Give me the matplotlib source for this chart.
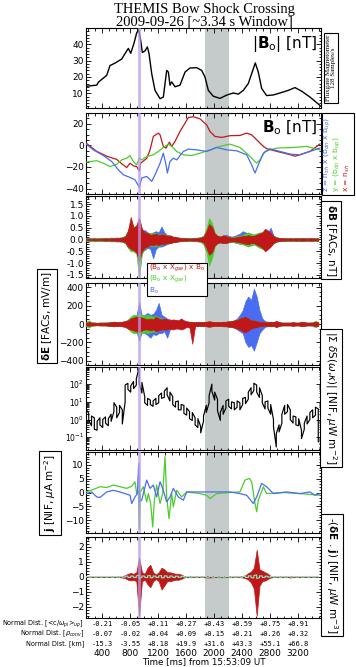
import numpy as np
import matplotlib
matplotlib.use('Agg')
import matplotlib.pyplot as plt
from matplotlib.ticker import MultipleLocator, LogLocator, NullFormatter, FixedLocator
from matplotlib.patches import Rectangle

plt.rcParams['font.family'] = ['DejaVu Sans']
plt.rcParams['mathtext.fontset'] = 'dejavusans'

# ---------------- data ----------------
# |Bo|
bmag_t = [171, 324, 350, 467, 514, 586, 681, 753, 776, 810, 857, 895, 924, 952, 976, 1014, 1048, 1071,
          1110, 1157, 1229, 1276, 1324, 1348, 1371, 1395, 1443, 1514, 1586, 1657, 1752, 1824, 1871, 1919,
          1990, 2086, 2181, 2276, 2348, 2419, 2490, 2538, 2590, 2633, 2681, 2752, 2848, 2943, 3062, 3157,
          3252, 3371, 3514]
bmag_v = [14.3, 15.0, 16.9, 21, 27, 28.5, 31, 36, 37.5, 34.5, 40.7, 47, 49, 42.5, 35, 36, 38.4, 34.5,
          22, 11.8, 6.7, 7.7, 24, 23, 15, 17, 14, 15, 23, 25.5, 25.7, 24, 20, 11.8,
          8.2, 6.9, 8.9, 10.2, 9.5, 11.8, 16, 22, 28.6, 23, 13, 8.6, 9, 10.2, 11.8, 13.5,
          11.3, 7.7, 2.6]

# Bo components
bx_t = [171, 324, 467, 610, 681, 753, 800, 848, 895, 933, 952, 1038, 1086, 1133, 1205, 1229, 1276, 1314,
        1362, 1395, 1443, 1514, 1586, 1633, 1705, 1800, 1895, 1943, 2014, 2110, 2229, 2371, 2467, 2538,
        2610, 2705, 2752, 2895, 2990, 3086, 3157, 3229, 3371, 3514]
bx_v = [2.2, -5.5, -10, -13, -17, -20.5, -16.5, -19, -19.6, -23.6, -16.5, -12, -4.3, 8.3, 11.4, 9.8, -0.9, -2.5,
        3, -0.9, 3.7, 12.9, 20.6, 25.8, 26.5, 24.6, 19, 12.9, 8.3, 7.4, 9, 9.2, 11.4, 9.8,
        5.2, -0.9, -3, -5.5, -7, -8.6, -10, -8.6, -5.5, 1.3]
by_t = [171, 324, 419, 514, 610, 681, 753, 800, 848, 895, 933, 967, 1038, 1133, 1205, 1276, 1348, 1395,
        1467, 1562, 1681, 1800, 1943, 2086, 2229, 2371, 2490, 2562, 2610, 2657, 2729, 2895, 3133, 3324,
        3419, 3514]
by_v = [-15.4, -14.2, -16.5, -19.6, -17.5, -13.4, -11.8, -9.4, -14.9, -18, -11.8, -13.4, -10.3, -8.7, -5.6,
        -1.9, 1.2, -0.9, -5.6, -8.7, -9.4, -7.2, -4.1, -0.9, 1.2, -1.9, -8.7, -13.4, -16.5, -13.4, -5.6,
        -2.5, -1.9, -0.9, -2.5, -4.1]
bz_t = [171, 276, 419, 538, 633, 705, 800, 871, 933, 967, 1038, 1110, 1157, 1229, 1276, 1310, 1334, 1371,
        1419, 1467, 1562, 1633, 1752, 1895, 2038, 2181, 2324, 2467, 2538, 2586, 2633, 2705, 2800, 2943,
        3086, 3229, 3371, 3514]
bz_v = [1.2, -4.1, -9.4, -14.9, -22.6, -27.2, -29.7, -31.8, -38.9, -30.3, -28.7, -33.3, -27.2, -16.5, -7.2,
        -16.5, -25.6, -14.9, -11.8, -13.4, -5.6, -3.5, -4.1, -5.6, -1.9, -4.1, -5, -8.7, -18, -25.6, -18,
        -7.2, -3.1, -5.6, -8, -8.7, -5.6, -2.5]

# common time bins (ms) for the dense wave panels
wave_t = [170, 210, 250, 290, 330, 370, 410, 450, 490, 530, 570, 610,
          650, 690, 730, 770, 810, 850, 890, 930, 970, 1010, 1050, 1090,
          1130, 1170, 1210, 1250, 1290, 1330, 1370, 1410, 1450, 1490, 1530, 1570,
          1610, 1650, 1690, 1730, 1770, 1810, 1850, 1890, 1930, 1970, 2010, 2050,
          2090, 2130, 2170, 2210, 2250, 2290, 2330, 2370, 2410, 2450, 2490, 2530,
          2570, 2610, 2650, 2690, 2730, 2770, 2810, 2850, 2890, 2930, 2970, 3010,
          3050, 3090, 3130, 3170, 3210, 3250, 3290, 3330, 3370, 3410, 3450, 3490]

# dB max/min per bin (nT)
dBr_hi = [.03, .04, .03, .04, .03, .04, .04, .05, .04, .05, .05, .06,
          .06, .08, .12, .35, .95, .50, .60, .92, .45, .30, .28, .20,
          .22, .25, .18, .22, .20, .15, .18, .12, .10, .08, .06, .05,
          .05, .04, .05, .05, .06, .08, .12, .35, .65, .55, .25, .15,
          .12, .18, .15, .10, .08, .08, .10, .12, .15, .15, .18, .15,
          .15, .20, .25, .30, .45, .38, .28, .15, .08, .06, .05, .05,
          .04, .05, .04, .05, .04, .05, .05, .04, .05, .05, .04, .05]
dBr_lo = [-.03, -.04, -.03, -.04, -.04, -.03, -.04, -.05, -.04, -.05, -.05, -.06,
          -.06, -.08, -.12, -.30, -.40, -.45, -.55, -.92, -.50, -.35, -.30, -.22,
          -.25, -.20, -.25, -.18, -.20, -.15, -.15, -.12, -.10, -.08, -.06, -.05,
          -.05, -.04, -.05, -.05, -.06, -.08, -.12, -.35, -.65, -.55, -.25, -.15,
          -.12, -.15, -.15, -.10, -.08, -.08, -.10, -.12, -.15, -.18, -.20, -.15,
          -.15, -.22, -.28, -.35, -.50, -.40, -.30, -.15, -.08, -.06, -.05, -.05,
          -.04, -.05, -.04, -.05, -.04, -.05, -.05, -.04, -.05, -.05, -.04, -.05]
dBg_hi = [.04, .05, .04, .05, .04, .05, .05, .06, .05, .06, .06, .07,
          .07, .10, .15, .40, .80, .55, .50, .70, .40, .30, .25, .25,
          .30, .25, .20, .25, .22, .18, .15, .12, .10, .08, .07, .06,
          .06, .05, .06, .06, .08, .10, .15, .45, .90, .70, .30, .15,
          .12, .15, .15, .12, .10, .12, .15, .15, .20, .25, .30, .25,
          .20, .25, .30, .30, .40, .30, .25, .15, .10, .07, .06, .06,
          .05, .05, .05, .06, .05, .06, .05, .05, .06, .05, .05, .06]
dBg_lo = [-.05, -.06, -.05, -.06, -.05, -.06, -.06, -.07, -.06, -.07, -.07, -.08,
          -.08, -.10, -.15, -.35, -.50, -.50, -.60, -1.60, -.60, -.40, -.30, -.25,
          -.30, -.25, -.30, -.20, -.20, -.15, -.15, -.12, -.10, -.08, -.07, -.06,
          -.06, -.05, -.06, -.06, -.08, -.10, -.20, -.50, -1.10, -.80, -.30, -.15,
          -.12, -.15, -.15, -.12, -.10, -.12, -.15, -.18, -.20, -.25, -.30, -.25,
          -.20, -.28, -.35, -.40, -.45, -.35, -.25, -.15, -.10, -.07, -.06, -.06,
          -.05, -.05, -.05, -.06, -.05, -.06, -.05, -.05, -.06, -.05, -.05, -.06]
dBb_hi = [.05, .06, .05, .06, .05, .06, .06, .07, .06, .08, .07, .08,
          .08, .10, .15, .30, .50, .40, .40, .60, .35, .40, .30, .25,
          .30, .35, .30, .55, .30, .20, .15, .12, .10, .08, .07, .06,
          .06, .05, .06, .06, .08, .10, .15, .30, .40, .35, .20, .15,
          .12, .15, .20, .15, .12, .15, .20, .25, .35, .30, .25, .25,
          .20, .25, .25, .30, .35, .30, .50, .15, .10, .07, .06, .06,
          .05, .05, .05, .06, .05, .06, .05, .05, .06, .05, .05, .06]
dBb_lo = [-.05, -.06, -.05, -.06, -.05, -.06, -.06, -.07, -.06, -.08, -.07, -.08,
          -.08, -.10, -.15, -.30, -.40, -.40, -.45, -.70, -.40, -.45, -.35, -.40,
          -.80, -.40, -.30, -.30, -.25, -.20, -.15, -.12, -.10, -.08, -.07, -.06,
          -.06, -.05, -.06, -.06, -.08, -.10, -.20, -.50, -.45, -.35, -.20, -.15,
          -.12, -.15, -.15, -.12, -.10, -.12, -.15, -.18, -.20, -.25, -.25, -.25,
          -.20, -.25, -.30, -.35, -.35, -.30, -.25, -.15, -.10, -.07, -.06, -.06,
          -.05, -.05, -.05, -.06, -.05, -.06, -.05, -.05, -.06, -.05, -.05, -.06]

# dE max/min per bin (mV/m)
dEr_hi = [15, 20, 15, 15, 12, 15, 15, 15, 15, 20, 25, 20,
          20, 25, 30, 40, 60, 70, 80, 80, 70, 60, 50, 60,
          50, 80, 60, 50, 60, 50, 40, 50, 45, 40, 60, 40,
          30, 25, 20, 20, 20, 20, 20, 25, 30, 25, 20, 20,
          20, 25, 25, 30, 30, 40, 45, 60, 70, 80, 60, 40,
          40, 30, 25, 20, 20, 20, 25, 20, 35, 20, 15, 15,
          15, 15, 20, 15, 15, 25, 20, 15, 15, 15, 25, 20]
dEr_lo = [-15, -20, -15, -15, -12, -15, -15, -15, -20, -20, -25, -20,
          -20, -25, -30, -50, -60, -70, -80, -90, -70, -60, -60, -70,
          -60, -80, -70, -60, -60, -60, -50, -60, -50, -50, -60, -50,
          -30, -40, -215, -20, -20, -20, -20, -25, -30, -25, -20, -20,
          -20, -25, -25, -30, -30, -40, -50, -60, -80, -90, -70, -50,
          -40, -35, -25, -20, -20, -20, -25, -20, -35, -20, -15, -15,
          -15, -15, -20, -15, -15, -25, -20, -15, -15, -15, -25, -20]
dEg_hi = [20, 40, 20, 15, 15, 15, 15, 15, 20, 20, 25, 20,
          20, 25, 30, 50, 80, 100, 100, 110, 100, 90, 100, 90,
          80, 90, 70, 60, 60, 50, 40, 40, 40, 35, 40, 30,
          25, 20, 20, 20, 20, 20, 20, 25, 30, 25, 20, 20,
          20, 20, 25, 30, 30, 40, 50, 60, 70, 70, 60, 40,
          40, 30, 25, 20, 20, 20, 25, 20, 30, 20, 15, 15,
          15, 15, 20, 15, 15, 25, 20, 15, 15, 20, 35, 20]
dEg_lo = [-20, -40, -20, -15, -15, -15, -15, -15, -20, -20, -25, -20,
          -20, -25, -30, -50, -80, -100, -100, -120, -100, -90, -100, -90,
          -80, -90, -70, -60, -60, -50, -40, -40, -40, -35, -40, -30,
          -25, -20, -20, -20, -20, -20, -20, -25, -30, -25, -20, -20,
          -20, -20, -25, -30, -30, -40, -50, -60, -70, -70, -60, -40,
          -40, -30, -25, -20, -20, -20, -25, -20, -30, -20, -15, -15,
          -15, -15, -20, -15, -15, -25, -20, -15, -15, -20, -35, -20]
dEb_hi = [15, 20, 15, 15, 12, 15, 15, 15, 15, 20, 25, 20,
          20, 25, 30, 40, 60, 70, 80, 240, 80, 100, 120, 100,
          110, 150, 230, 100, 80, 60, 50, 40, 40, 30, 30, 25,
          20, 20, 20, 20, 20, 20, 20, 20, 25, 20, 20, 20,
          20, 20, 20, 25, 30, 40, 60, 100, 150, 250, 300, 260,
          385, 300, 150, 60, 30, 25, 20, 20, 20, 20, 15, 15,
          15, 15, 15, 15, 15, 15, 15, 15, 15, 15, 15, 15]
dEb_lo = [-15, -20, -15, -15, -12, -15, -15, -15, -15, -20, -25, -20,
          -20, -25, -30, -40, -60, -70, -80, -180, -80, -100, -120, -150,
          -110, -120, -100, -100, -80, -150, -60, -40, -40, -30, -30, -25,
          -20, -20, -20, -20, -20, -20, -20, -20, -25, -20, -20, -20,
          -20, -20, -20, -25, -30, -40, -60, -80, -100, -200, -250, -230,
          -290, -200, -100, -60, -30, -25, -20, -20, -20, -20, -15, -15,
          -15, -15, -15, -15, -15, -15, -15, -15, -15, -15, -15, -15]

# |Sum dS| max/min per bin, log10(uW m^-2)
S_hi = [0.60, 0.35, 0.20, 0.10, -0.10, 0.10, 0.00, 0.15, 0.05, 0.30, 0.95, 0.70,
        0.80, 0.55, 1.95, 2.05, 1.90, 2.15, 2.30, 2.95, 2.10, 1.30, 1.20, 1.10,
        1.05, 1.20, 1.35, 1.50, 1.60, 1.80, 1.55, 1.30, 1.00, 1.05, 0.85, 0.80,
        0.65, 0.45, 0.40, 0.10, 0.05, -0.40, 0.20, 0.80, 1.35, 2.00, 1.55, 1.15,
        0.40, 0.80, 1.05, 1.15, 1.00, 0.95, 1.05, 0.95, 1.20, 1.25, 1.55, 1.80,
        2.05, 1.95, 1.80, 1.35, 1.00, 1.05, 0.85, 0.00, -0.80, -0.30, 0.30, 0.80,
        0.85, 0.55, 0.20, 0.15, 0.05, -0.60, -0.20, 0.20, 0.40, 0.55, 0.70, 0.60]
S_lo = [0.25, -0.05, -0.35, -0.55, -0.60, -0.30, -0.45, -0.20, -0.35, -0.10, 0.45, 0.10,
        0.40, -0.25, 1.00, 1.70, 1.55, 1.75, 1.95, 2.05, 1.50, 0.95, 0.80, 0.85,
        0.75, 0.85, 0.95, 1.20, 1.25, 1.40, 1.05, 0.85, 0.70, 0.55, 0.55, 0.35,
        0.25, 0.05, -0.05, -0.30, -0.45, -0.75, -0.10, 0.40, 0.95, 1.60, 1.10, 0.50,
        -0.05, 0.30, 0.65, 0.75, 0.60, 0.55, 0.70, 0.55, 0.85, 0.90, 1.15, 1.40,
        1.65, 1.55, 1.25, 0.95, 0.60, 0.65, 0.30, -0.40, -1.55, -0.70, -0.20, 0.30,
        0.45, 0.00, -0.20, -0.30, -0.35, -1.08, -0.55, -0.25, 0.00, 0.10, 0.25, -1.26]

# j (uA m^-2)
jg_t = [171, 276, 371, 467, 562, 657, 752, 824, 871, 895, 919, 933, 948, 990, 1038, 1062, 1095, 1124,
        1148, 1181, 1229, 1267, 1300, 1324, 1357, 1395, 1419, 1467, 1538, 1610, 1800, 1895, 1943, 2038,
        2229, 2371, 2443, 2505, 2538, 2586, 2610, 2633, 2705, 2752, 2990, 3229, 3514]
jg_v = [0.24, 1.1, 2.1, 1.8, 2.7, 2.1, 1.5, 2.3, 3.9, -0.4, 0.8, -13.1, 0.2, 2.1, -3.4, -0.4, -4, -12.5,
        -2.8, 2.7, -4, -0.4, 13, -1.6, -9.5, -0.4, -5.2, 0.8, -1.6, 0.2, -0.4, -1, -2.2, -0.4,
        0, 0.2, 4.5, 5.1, 3.9, -4, -7, -2.8, 2.1, -0.4, 0, -0.4, -1]
jb_t = [171, 252, 324, 371, 467, 562, 657, 800, 824, 871, 905, 924, 938, 967, 1038, 1086, 1133, 1181,
        1229, 1276, 1324, 1371, 1419, 1490, 1562, 1610, 1800, 2038, 2229, 2371, 2467, 2562, 2610, 2681,
        2752, 2848, 3038, 3229, 3371, 3443, 3514]
jb_v = [-0.4, 0.2, -1.6, -1.8, 0.2, 0.8, 0.2, -1, -4, -1.6, -0.4, 10.5, -3.4, -2.8, 4.5, 1.5, 2.7, -1.6,
        3.9, 0.8, -3.4, -1.6, 1.5, -1.6, -2.8, 0.2, 0.2, 0.2, 0.2, -0.4, -1, -4, -1.6, 3.3,
        2.1, -0.4, 0.2, -0.4, 0.2, -1, -0.4]

# -(dE . j) max/min per bin (uW m^-3)
P_hi = [.02, .02, .02, .02, .02, .02, .02, .02, .02, .02, .03, .03,
        .03, .05, .10, .20, .25, .20, .30, 1.27, .30, .20, .60, .80,
        .30, .15, .30, .60, .50, .30, .30, .25, .20, .20, .15, .05,
        .03, .03, .03, .03, .03, .03, .03, .05, .05, .04, .03, .03,
        .03, .03, .03, .03, .03, .03, .03, .03, .05, .10, .25, .35,
        .60, 1.80, .50, .40, .30, .20, .05, .03, .03, .03, .03, .03,
        .03, .05, .03, .03, .02, .02, .02, .02, .02, .02, .02, .02]
P_lo = [-.02, -.02, -.02, -.02, -.02, -.02, -.02, -.02, -.02, -.02, -.03, -.03,
        -.03, -.05, -.10, -.20, -.25, -.20, -.30, -2.60, -.30, -.20, -.50, -.70,
        -.30, -.15, -.30, -.85, -.60, -.30, -.30, -.25, -.20, -.20, -.15, -.05,
        -.03, -.03, -.03, -.03, -.03, -.03, -.03, -.05, -.05, -.04, -.03, -.03,
        -.03, -.03, -.03, -.03, -.03, -.03, -.03, -.03, -.05, -.10, -.20, -.40,
        -.80, -2.60, -.60, -.30, -.25, -.15, -.05, -.03, -.03, -.03, -.03, -.03,
        -.03, -.05, -.03, -.03, -.02, -.02, -.02, -.02, -.02, -.02, -.02, -.02]
Pc_hi = [.02, .02, .02, .02, .02, .02, .02, .02, .02, .02, .02, .02,
         .02, .02, .03, .04, .05, .04, .05, .12, .05, .04, .06, .08,
         .05, .04, .05, .08, .06, .05, .05, .04, .04, .04, .03, .02,
         .02, .02, .02, .02, .02, .02, .02, .03, .03, .03, .02, .02,
         .02, .02, .02, .02, .02, .02, .02, .02, .03, .04, .05, .06,
         .08, .12, .06, .05, .04, .03, .02, .02, .02, .02, .02, .02,
         .02, .02, .02, .02, .02, .02, .02, .02, .02, .02, .02, .02]
Pc_lo = [-v for v in Pc_hi]

# x-axis annotation rows
time_ticks = [400, 800, 1200, 1600, 2000, 2400, 2800, 3200]
dist_ion = ['-0.21', '-0.05', '+0.11', '+0.27', '+0.43', '+0.59', '+0.75', '+0.91']
dist_rho = ['-0.07', '-0.02', '+0.04', '+0.09', '+0.15', '+0.21', '+0.26', '+0.32']
dist_km = ['-15.3', '-3.55', '+8.18', '+19.9', '+31.6', '+43.3', '+55.1', '+66.8']

ramp_t = 928
band_t = (1871, 2219)

# ---------------- figure ----------------
W, H = 356, 667
fig = plt.figure(figsize=(W / 100, H / 100), dpi=100)
RED, GRN, BLU = '#c01818', '#4ccc2c', '#4a6cf2'
CYAN = '#7ff0c8'

panels_px = [(28, 108), (113, 194), (196, 278), (283, 365), (367, 450), (452, 533), (537, 618)]
L, R = 86, 321
XL = (171, 3529)
axes = []
for top, bot in panels_px:
    ax = fig.add_axes([L / W, 1 - bot / H, (R - L) / W, (bot - top) / H])
    ax.set_xlim(*XL)
    ax.xaxis.set_major_locator(MultipleLocator(400))
    ax.xaxis.set_minor_locator(MultipleLocator(100))
    ax.tick_params(axis='both', which='both', direction='in', top=True, right=True,
                   labelbottom=False, labelsize=6.5, width=0.6, pad=1.5)
    ax.tick_params(which='major', length=3.5)
    ax.tick_params(which='minor', length=1.8)
    for s in ax.spines.values():
        s.set_linewidth(0.8)
    ax.axvspan(*band_t, color='#c4cbca', lw=0, zorder=0)
    ax.axvline(ramp_t, color='#b99cf0', lw=2.0, alpha=0.75, zorder=5)
    axes.append(ax)


def band(ax, t, lo, hi, c, z=3):
    ax.fill_between(t, lo, hi, color=c, lw=0.5, edgecolor=c, zorder=z)


def zig(t, lo, hi):
    x = np.repeat(np.asarray(t, float), 2)
    y = []
    for i, (a, b) in enumerate(zip(lo, hi)):
        y += [a, b] if i % 2 == 0 else [b, a]
    return x, np.array(y)


# Panel 1
ax = axes[0]
ax.plot(bmag_t, bmag_v, color='black', lw=1.0, zorder=3)
ax.set_ylim(1, 50)
ax.yaxis.set_major_locator(FixedLocator([10, 20, 30, 40]))
ax.yaxis.set_minor_locator(MultipleLocator(2))
ax.text(0.985, 0.93, r'|$\mathbf{B}_{\rm o}$| [nT]', transform=ax.transAxes, ha='right', va='top', fontsize=11)

# Panel 2
ax = axes[1]
ax.plot(bx_t, bx_v, color=RED, lw=0.9, zorder=3)
ax.plot(by_t, by_v, color=GRN, lw=0.9, zorder=3)
ax.plot(bz_t, bz_v, color=BLU, lw=0.9, zorder=3)
ax.set_ylim(-45, 30)
ax.yaxis.set_major_locator(FixedLocator([-40, -20, 0, 20]))
ax.yaxis.set_minor_locator(MultipleLocator(5))
ax.text(0.985, 0.93, r'$\mathbf{B}_{\rm o}$ [nT]', transform=ax.transAxes, ha='right', va='top', fontsize=11)

# Panel 3 dB
ax = axes[2]
band(ax, wave_t, dBb_lo, dBb_hi, BLU)
band(ax, wave_t, dBg_lo, dBg_hi, GRN)
band(ax, wave_t, dBr_lo, dBr_hi, RED)
ax.set_ylim(-1.63, 1.84)
ax.yaxis.set_major_locator(MultipleLocator(0.5))
ax.yaxis.set_minor_locator(MultipleLocator(0.1))
ax.yaxis.set_major_formatter(matplotlib.ticker.FormatStrFormatter('%.1f'))

# Panel 4 dE
ax = axes[3]
band(ax, wave_t, dEb_lo, dEb_hi, BLU)
band(ax, wave_t, dEg_lo, dEg_hi, GRN)
band(ax, wave_t, dEr_lo, dEr_hi, RED)
ax.set_ylim(-447, 447)
ax.yaxis.set_major_locator(MultipleLocator(200))
ax.yaxis.set_minor_locator(MultipleLocator(50))

# Panel 5 S (noisy line drawn between per-bin extremes)
ax = axes[4]
x, y = zig(wave_t, S_lo, S_hi)
ax.plot(x, 10 ** y, color='black', lw=0.85, zorder=3)
ax.set_yscale('log')
ax.set_ylim(10 ** -1.72, 10 ** 2.97)
ax.yaxis.set_major_locator(LogLocator(base=10, numticks=10))
ax.yaxis.set_minor_locator(LogLocator(base=10, subs=np.arange(2, 10), numticks=20))
ax.yaxis.set_minor_formatter(NullFormatter())
ax.tick_params(axis='y', labelsize=5.5)

# Panel 6 j
ax = axes[5]
ax.plot(jg_t, jg_v, color=GRN, lw=0.9, zorder=3)
ax.plot(jb_t, jb_v, color=BLU, lw=0.9, zorder=3)
ax.set_ylim(-14.7, 14.7)
ax.yaxis.set_major_locator(MultipleLocator(5))
ax.yaxis.set_minor_locator(MultipleLocator(1))

# Panel 7 -(dE.j)
ax = axes[6]
band(ax, wave_t, P_lo, P_hi, RED)
x, y = zig(wave_t, Pc_lo, Pc_hi)
ax.plot(x, y, color=CYAN, lw=0.8, zorder=4)
ax.set_ylim(-2.75, 2.65)
ax.yaxis.set_major_locator(MultipleLocator(1))
ax.yaxis.set_minor_locator(MultipleLocator(0.2))

# ---------------- texts ----------------
fig.text(204 / W, 1 - 3 / H, 'THEMIS Bow Shock Crossing\n2009-09-26 [~3.34 s Window]',
         ha='center', va='top', fontsize=10.5, family='Liberation Serif', linespacing=0.95)

box = dict(boxstyle='square,pad=0.25', fc='white', ec='black', lw=0.8)
fig.text(331 / W, 1 - 68 / H, 'Fluxgate Magnetometer\n128 Samples/s', rotation=90, ha='center', va='center',
         fontsize=5, family='Liberation Serif', bbox=box, linespacing=0.9)

# Bo legend box (rotated)
fig.patches.append(Rectangle((322 / W, 1 - 195 / H), 32 / W, 82 / H, transform=fig.transFigure,
                             fc='white', ec='black', lw=0.8, zorder=1))
for xx, s, c in [(327, r'z = n$_{sh}$ x (b$_{dn}$ x b$_{up}$)', BLU),
                 (337, r'y = (b$_{dn}$ x b$_{up}$)', GRN),
                 (347, r'x = n$_{sh}$', RED)]:
    fig.text(xx / W, 1 - 192 / H, s, rotation=90, rotation_mode='anchor', ha='left', va='center',
             color=c, fontsize=5.4, zorder=2)

fig.text(331 / W, 1 - 240 / H, r'$\mathbf{\delta B}$ [FACs, nT]', rotation=270, ha='center', va='center',
         fontsize=7.5, bbox=box)
fig.text(331 / W, 1 - 398 / H, r'|$\Sigma$ $\delta$S($\omega$,$\kappa$)| [NIF, $\mu$W m$^{-2}$]', rotation=270,
         ha='center', va='center', fontsize=7.5, bbox=box)
fig.text(332 / W, 1 - 575 / H, r'-($\mathbf{\delta E}$ . $\mathbf{j}$) [NIF, $\mu$W m$^{-3}$]', rotation=270,
         ha='center', va='center', fontsize=7.5, bbox=box)
fig.text(47 / W, 1 - 316 / H, r'$\mathbf{\delta E}$ [FACs, mV/m]', rotation=90, ha='center', va='center',
         fontsize=7.5, bbox=box)
fig.text(50 / W, 1 - 493 / H, r'$\mathbf{j}$ [NIF, $\mu$A m$^{-2}$]', rotation=90, ha='center', va='center',
         fontsize=7.5, bbox=box)

# wave legend box
fig.patches.append(Rectangle((147 / W, 1 - 296 / H), 60 / W, 33 / H, transform=fig.transFigure,
                             fc='white', ec='black', lw=0.8, zorder=10))
for yy, s, c in [(268.5, r'(B$_{\rm o}$ x X$_{gse}$) x B$_{\rm o}$', RED),
                 (279.5, r'(B$_{\rm o}$ x X$_{gse}$)', GRN),
                 (290.5, r'B$_{\rm o}$', BLU)]:
    fig.text(149 / W, 1 - yy / H, s, ha='left', va='center', color=c, fontsize=5.2, zorder=11)

# bottom annotation rows
def xpix(t):
    return L + (t - XL[0]) / (XL[1] - XL[0]) * (R - L)

rows = [(624, r'Normal Dist. [<c/$\omega_{pi}$>$_{up}$]', dist_ion),
        (634, r'Normal Dist. [$\rho_{conv}$]', dist_rho),
        (644, r'Normal Dist. [km]', dist_km)]
for yy, lab, vals in rows:
    fig.text(84 / W, 1 - yy / H, lab, ha='right', va='center', fontsize=4.7)
    for t, v in zip(time_ticks, vals):
        fig.text(xpix(t) / W, 1 - yy / H, v, ha='center', va='center', fontsize=5.0, family='DejaVu Sans Mono')
for t in time_ticks:
    fig.text(xpix(t) / W, 1 - 653 / H, str(t), ha='center', va='center', fontsize=6.5)
fig.text(204 / W, 1 - 662 / H, 'Time [ms] from 15:53:09 UT', ha='center', va='center', fontsize=6.3)

fig.savefig('out.png', dpi=100)
